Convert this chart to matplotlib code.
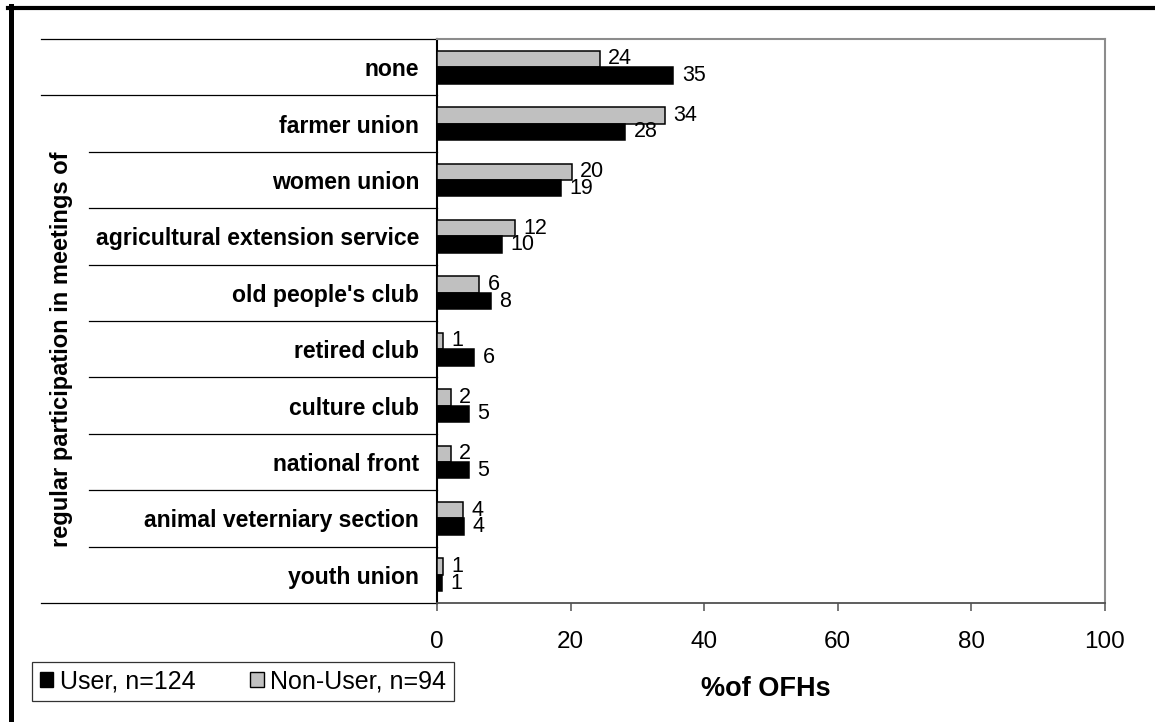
import matplotlib
matplotlib.use("Agg")
import matplotlib.pyplot as plt
from matplotlib.lines import Line2D
from matplotlib.patches import Patch

categories = ["none", "farmer union", "women union", "agricultural extension service",
              "old people's club", "retired club", "culture club", "national front",
              "animal veterniary section", "youth union"]
user_vals = [35.4, 28.2, 18.6, 9.7, 8.1, 5.6, 4.8, 4.8, 4.0, 0.8]
nonuser_vals = [24.4, 34.1, 20.2, 11.7, 6.3, 0.9, 2.1, 2.1, 3.9, 0.9]
xticks = [0, 20, 40, 60, 80, 100]
user_label = "User, n=124"
nonuser_label = "Non-User, n=94"
group_label = "regular participation in meetings of"
xlabel = "%of OFHs"

plt.rcParams['font.family'] = ['Liberation Sans', 'DejaVu Sans']

W, H = 1155, 722
fig = plt.figure(figsize=(W / 100, H / 100), dpi=100)
fig.patch.set_facecolor("white")

def fx(px):
    return px / W

def fy(py):
    return 1 - py / H

ax_l, ax_r, ax_t, ax_b = 437, 1105, 39, 603
ax = fig.add_axes([fx(ax_l), fy(ax_b), fx(ax_r - ax_l), (ax_b - ax_t) / H])

n = len(categories)
pos = list(range(n))
bh = 0.2925
ax.barh([p - bh / 2 for p in pos], nonuser_vals, height=bh, color="#C0C0C0",
        edgecolor="black", linewidth=1.1, label=nonuser_label, zorder=3)
ax.barh([p + bh / 2 for p in pos], user_vals, height=bh, color="black",
        edgecolor="black", linewidth=1.1, label=user_label, zorder=3)

for p, v in zip(pos, nonuser_vals):
    ax.annotate(f"{v:.0f}", (v, p - bh / 2), xytext=(6, 0), textcoords="offset points",
                va="center", ha="left", fontsize=15.5)
for p, v in zip(pos, user_vals):
    ax.annotate(f"{v:.0f}", (v, p + bh / 2), xytext=(6, 0), textcoords="offset points",
                va="center", ha="left", fontsize=15.5)

ax.set_xlim(0, 100)
ax.set_ylim(n - 0.5, -0.5)
ax.set_xticks(xticks)
ax.set_xticklabels([str(t) for t in xticks], fontsize=17.5)
ax.tick_params(axis="x", direction="out", length=6, width=1.2, color="#606060", pad=14)
ax.set_yticks(pos)
ax.set_yticklabels(categories, fontsize=16.6, fontweight="bold")
ax.tick_params(axis="y", length=0, pad=13)

ax.spines["top"].set_color("#8c8c8c")
ax.spines["top"].set_linewidth(1.5)
ax.spines["right"].set_color("#8c8c8c")
ax.spines["right"].set_linewidth(1.5)
ax.spines["bottom"].set_color("#505050")
ax.spines["bottom"].set_linewidth(1.3)
ax.spines["left"].set_color("black")
ax.spines["left"].set_linewidth(1.5)

# multi-level category separators
x_outer = (41 - ax_l) / (ax_r - ax_l)
x_inner = (89 - ax_l) / (ax_r - ax_l)
trans = ax.get_yaxis_transform()
for b in range(n + 1):
    yb = b - 0.5
    x0 = x_outer if b in (0, 1, n) else x_inner
    ax.add_line(Line2D([x0, 0], [yb, yb], transform=trans, color="black",
                       linewidth=0.9, clip_on=False))

fig.text(fx(62), fy((96 + 603) / 2), group_label, rotation=90, ha="center", va="center",
         fontsize=17, fontweight="bold")
fig.text(fx(766), fy(689), xlabel, ha="center", va="center", fontsize=19.5, fontweight="bold")

handles = [Patch(facecolor="black", edgecolor="black", label=user_label),
           Patch(facecolor="#C0C0C0", edgecolor="black", label=nonuser_label)]
leg = fig.legend(handles=handles, loc="center", bbox_to_anchor=(fx(243), fy(681)), ncol=2,
                 fontsize=18, frameon=True, fancybox=False, handlelength=0.55,
                 handleheight=0.55, handletextpad=0.25, columnspacing=2.2, borderpad=0.3,
                 borderaxespad=0)
leg.get_frame().set_edgecolor("black")
leg.get_frame().set_linewidth(0.9)

# outer chart border (clipped on right and bottom)
fig.add_artist(Line2D([fx(8), fx(W)], [fy(8), fy(8)], color="black", linewidth=3.0))
fig.add_artist(Line2D([fx(10.5), fx(10.5)], [fy(6), fy(H)], color="black", linewidth=3.6))

fig.savefig("out.png", dpi=100, facecolor="white")
